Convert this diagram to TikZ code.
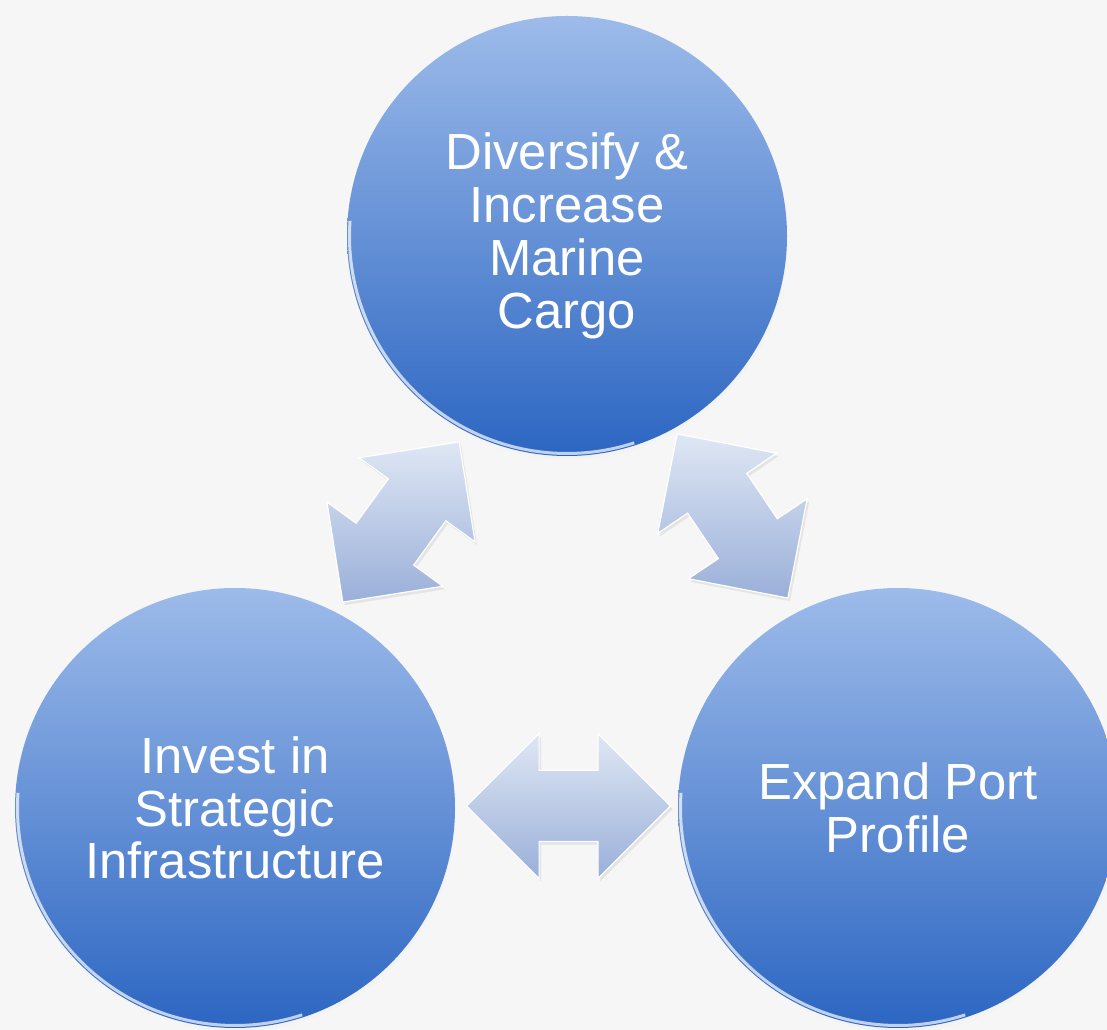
\documentclass[tikz,border=0pt]{standalone}
\usepackage{fontspec}
\setmainfont{Liberation Sans}
\usetikzlibrary{shapes.arrows,shadows,calc}
\definecolor{bgpaper}{HTML}{F6F6F6}
\definecolor{discTop}{HTML}{9DBBEA}
\definecolor{discBot}{HTML}{2C66C2}
\definecolor{arrLight}{HTML}{DFE7F4}
\definecolor{arrDark}{HTML}{9AAFD9}
\def\discr{220}
\newcommand{\rimlight}[1]{
  \draw[white, opacity=0.7, line width=3bp]
    ([shift={(176:\discr-2.5)}]#1.center) arc[start angle=176, end angle=288, radius=\discr-2.5];
}

\begin{document}
\begin{tikzpicture}[x=1bp, y=1bp,
    bubble/.style={circle, minimum size=2*\discr bp, inner sep=0pt, outer sep=0pt,
        top color=discTop, bottom color=discBot, text=white, align=center,
        font=\fontsize{51}{53}\selectfont,
        circular drop shadow={shadow scale=1.0, shadow xshift=2bp, shadow yshift=-4bp, opacity=0.18}},
    dblarrow/.style={double arrow, double arrow head extend=36bp, inner xsep=0pt, inner ysep=35bp,
        minimum width=0pt, minimum height=198bp, top color=arrLight, bottom color=arrDark,
        draw=white, line width=1.2bp,
        drop shadow={shadow xshift=2bp, shadow yshift=-3bp, opacity=0.15}}]
    \clip (0,0) rectangle (1107,1030);
    \fill[bgpaper] (0,0) rectangle (1107,1030);

    \node[bubble] (cargo) at (567,794) {Diversify \&\\Increase\\Marine\\Cargo};
    \node[bubble] (infra) at (235,222) {Invest in\\Strategic\\Infrastructure};
    \node[bubble] (port) at (898,222) {Expand Port\\Profile};
    \foreach \disc in {cargo, infra, port} {
        \rimlight{\disc}
    }

    \node[dblarrow, rotate=54] (arrowL) at ($(cargo)!0.5!(infra)$) {};
    \node[dblarrow, rotate=-56] (arrowR) at ($(cargo)!0.5!(port) + (0,6)$) {};
    \node[dblarrow, minimum height=204bp, inner ysep=35bp, double arrow head extend=37bp]
        (arrowB) at ($(infra)!0.5!(port) + (2,2)$) {};
\end{tikzpicture}
\end{document}
